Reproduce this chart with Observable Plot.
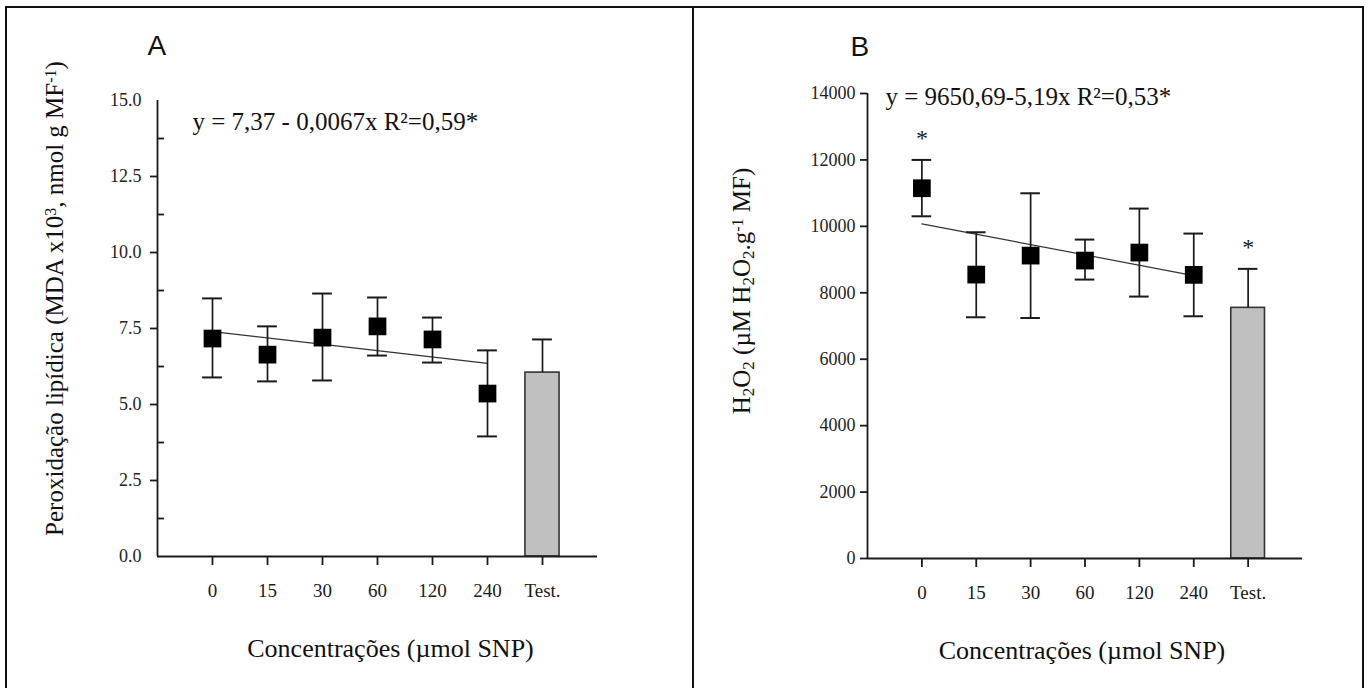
<!DOCTYPE html>
<html>
<head>
<meta charset="utf-8">
<script src="https://cdn.jsdelivr.net/npm/d3@7"></script>
<script src="https://cdn.jsdelivr.net/npm/@observablehq/plot@0.6"></script>
<style>
  html, body { margin: 0; padding: 0; background: #fff; }
  #wrap { position: relative; width: 1372px; height: 688px; overflow: hidden; background: #fff; }
  #border { position: absolute; left: 5px; top: 6px; width: 1359px; height: 720px; border: 2px solid #111; box-sizing: border-box; }
  #divider { position: absolute; left: 692px; top: 6px; width: 2px; height: 700px; background: #111; }
  #pa { position: absolute; left: 0; top: 0; }
  #pb { position: absolute; left: 694px; top: 0; }
</style>
</head>
<body>
<div id="wrap">
  <div id="pa"></div>
  <div id="pb"></div>
  <div id="border"></div>
  <div id="divider"></div>
</div>
<script>
// ---- categories (x tick labels) ----
const categories = ["0", "15", "30", "60", "120", "240", "Test."];

// ---- Panel A: lipid peroxidation ----
const peroxMean = [7.17, 6.64, 7.20, 7.57, 7.14, 5.36];
const peroxLow  = [5.89, 5.76, 5.79, 6.61, 6.38, 3.95];
const peroxHigh = [8.49, 7.57, 8.65, 8.52, 7.86, 6.78];
const peroxTest = 6.05;
const peroxTestHigh = 7.14;
const peroxFit = [7.40, 6.35];          // fitted line at first and last SNP dose
const peroxTicks = [0, 2.5, 5, 7.5, 10, 12.5, 15];
const peroxMinorTicks = [1.25, 3.75, 6.25, 8.75, 11.25, 13.75];
const peroxEquation = "y = 7,37 - 0,0067x R²=0,59*";

// ---- Panel B: H2O2 ----
const h2o2Mean = [11148, 8548, 9120, 8970, 9211, 8539];
const h2o2Low  = [10303, 7263, 7240, 8398, 7886, 7293];
const h2o2High = [12000, 9822, 10996, 9602, 10535, 9783];
const h2o2Test = 7546;
const h2o2TestHigh = 8720;
const h2o2Fit = [10075, 8518];
const h2o2Ticks = [0, 2000, 4000, 6000, 8000, 10000, 12000, 14000];
const h2o2Significant = ["0", "Test."];
const h2o2Equation = "y = 9650,69-5,19x R²=0,53*";

const xTitle = "Concentrações (µmol SNP)";
const serif = "'Liberation Serif', 'Times New Roman', serif";
const INK = "#1a1a1a";

function panel(cfg) {
  const n = categories.length;
  const rows = cfg.mean.map((m, i) => ({i, mean: m, low: cfg.low[i], high: cfg.high[i], cat: categories[i]}));
  const test = [{i: n - 1, value: cfg.test, high: cfg.testHigh, cat: categories[n - 1]}];
  const fit = [{i: 0, v: cfg.fit[0]}, {i: n - 2, v: cfg.fit[1]}];
  const cap = 0.18, half = 0.31;
  const stars = rows.concat(test).filter(d => (cfg.significant || []).includes(d.cat));

  const marks = [
    // bar for control
    Plot.rectY(test, {x1: d => d.i - half, x2: d => d.i + half, y1: 0, y2: "value",
      fill: "#c0c0c0", stroke: "#333", strokeWidth: 1.6}),
    Plot.ruleX(test, {x: "i", y1: "value", y2: "high", stroke: INK, strokeWidth: 1.7}),
    Plot.ruleY(test, {y: "high", x1: d => d.i - cap, x2: d => d.i + cap, stroke: INK, strokeWidth: 2}),
    // regression line
    Plot.line(fit, {x: "i", y: "v", stroke: "#333", strokeWidth: 1.2}),
    // error bars
    Plot.ruleX(rows, {x: "i", y1: "low", y2: "high", stroke: INK, strokeWidth: 1.7}),
    Plot.ruleY(rows, {y: "high", x1: d => d.i - cap, x2: d => d.i + cap, stroke: INK, strokeWidth: 2}),
    Plot.ruleY(rows, {y: "low", x1: d => d.i - cap, x2: d => d.i + cap, stroke: INK, strokeWidth: 2}),
    // means
    Plot.dot(rows, {x: "i", y: "mean", symbol: "square", r: 10, fill: "#000", stroke: "none"}),
    // significance stars
    Plot.text(stars, {x: "i", y: "high", text: () => "*", dy: -22, fontSize: 24, fontFamily: serif, fill: INK}),
    // axis lines
    Plot.ruleX([-1], {y1: cfg.yDomain[0], y2: cfg.yDomain[1], stroke: INK, strokeWidth: 1.8}),
    Plot.ruleY([cfg.yDomain[0]], {x1: -1, x2: n, stroke: INK, strokeWidth: 1.8}),
    // x axis
    Plot.axisX(d3.range(n), {tickFormat: i => categories[i], tickSize: 9, tickPadding: 18,
      label: null, fontSize: 19, fontFamily: serif, stroke: INK, strokeWidth: 1.8, fill: INK}),
    // y axis labels
    Plot.axisY(cfg.yTicks, {tickSize: 0, tickPadding: cfg.yPad, tickFormat: cfg.yFormat,
      label: null, fontSize: 18, fontFamily: serif, fill: "#222"}),
    // y axis outward ticks
    Plot.axisY(cfg.majorTickValues, {tickSize: 7, label: null, fill: "none", stroke: INK, strokeWidth: 1.8}),
    // titles
    Plot.text([cfg.letter], {frameAnchor: "top-left", textAnchor: "start", lineAnchor: "top", dx: cfg.letterDx, dy: cfg.letterDy,
      fontSize: 28, fontFamily: "'Liberation Sans Narrow', 'Liberation Sans', Arial, sans-serif", fill: "#111"}),
    Plot.text([cfg.equation], {frameAnchor: "top-left", textAnchor: "start", lineAnchor: "middle", dx: cfg.eqDx, dy: cfg.eqDy,
      fontSize: 25, fontFamily: serif, fill: "#111"}),
    Plot.text([xTitle], {frameAnchor: "bottom", textAnchor: "middle", lineAnchor: "middle", dx: cfg.xtDx, dy: 92,
      fontSize: 26, fontFamily: serif, fill: "#111"}),
    Plot.text([cfg.yTitle], {frameAnchor: "left", textAnchor: "middle", lineAnchor: "middle", rotate: -90, dx: cfg.ytDx, dy: cfg.ytDy,
      fontSize: cfg.ytSize, fontFamily: serif, fill: "#111", className: "ytitle"})
  ];
  if (cfg.minorTicks) {
    marks.push(Plot.axisY(cfg.minorTicks, {tickSize: 7, dx: 7, label: null, fill: "none", stroke: INK, strokeWidth: 1.8}));
  }

  return Plot.plot({
    width: cfg.width, height: 688,
    marginLeft: cfg.marginLeft, marginRight: cfg.marginRight,
    marginTop: cfg.marginTop, marginBottom: cfg.marginBottom,
    style: {background: "transparent", color: INK, fontFamily: serif},
    x: {type: "linear", domain: [-1, n]},
    y: {domain: cfg.yDomain},
    marks
  });
}

function richify(svg, parts, size) {
  const t = svg.querySelector(".ytitle text");
  if (!t) return;
  t.textContent = "";
  for (const [s, kind] of parts) {
    const ts = document.createElementNS("http://www.w3.org/2000/svg", "tspan");
    ts.textContent = s;
    if (kind === "sub") { ts.setAttribute("baseline-shift", "-25%"); ts.setAttribute("font-size", Math.round(size * 0.68)); }
    if (kind === "sup") { ts.setAttribute("baseline-shift", "45%"); ts.setAttribute("font-size", Math.round(size * 0.62)); }
    t.appendChild(ts);
  }
}

const svgA = panel({
  width: 694, marginLeft: 157, marginRight: 97, marginTop: 100, marginBottom: 132,
  mean: peroxMean, low: peroxLow, high: peroxHigh, test: peroxTest, testHigh: peroxTestHigh, fit: peroxFit,
  yDomain: [0, 15], yTicks: peroxTicks, majorTickValues: peroxTicks.slice(1, -1), minorTicks: peroxMinorTicks,
  yFormat: d3.format(".1f"), yPad: 16,
  letter: "A", letterDx: -10, letterDy: -65,
  equation: peroxEquation, eqDx: 35, eqDy: 21,
  xtDx: 13, yTitle: "Peroxidação lipídica (MDA x10³, nmol g MF⁻¹)", ytDx: -103, ytDy: -30, ytSize: 25
});
const svgB = panel({
  width: 678, marginLeft: 173, marginRight: 70, marginTop: 93, marginBottom: 130,
  mean: h2o2Mean, low: h2o2Low, high: h2o2High, test: h2o2Test, testHigh: h2o2TestHigh, fit: h2o2Fit,
  significant: h2o2Significant,
  yDomain: [0, 14000], yTicks: h2o2Ticks, majorTickValues: h2o2Ticks, minorTicks: null,
  yFormat: d3.format("d"), yPad: 12,
  letter: "B", letterDx: -17, letterDy: -57,
  equation: h2o2Equation, eqDx: 18, eqDy: 3,
  xtDx: -3, yTitle: "H2O2 (µM H2O2.g-1 MF)", ytDx: -126, ytDy: -35, ytSize: 25
});
richify(svgA, [["Peroxidação lipídica (MDA x10", ""], ["3", "sup"], [", nmol g MF", ""], ["-1", "sup"], [")", ""]], 25);
richify(svgB, [["H", ""], ["2", "sub"], ["O", ""], ["2", "sub"], [" (µM H", ""], ["2", "sub"], ["O", ""], ["2", "sub"], [".g", ""], ["-1", "sup"], [" MF)", ""]], 25);
document.getElementById("pa").appendChild(svgA);
document.getElementById("pb").appendChild(svgB);
</script>
</body>
</html>
